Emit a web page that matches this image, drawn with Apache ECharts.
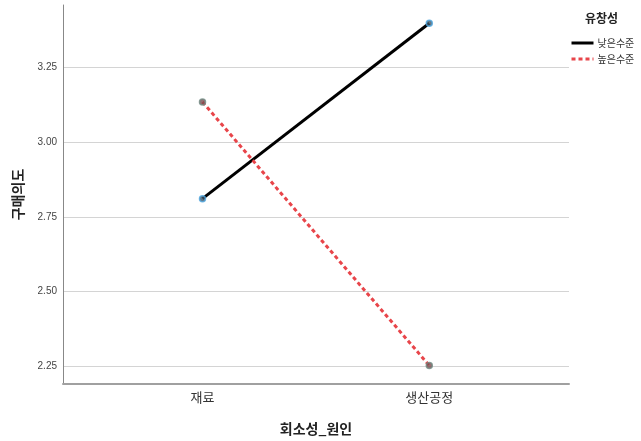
<!DOCTYPE html>
<html>
<head>
<meta charset="utf-8">
<script src="https://cdn.jsdelivr.net/npm/echarts@6/dist/echarts.min.js"></script>
<style>
html,body{margin:0;padding:0;background:#fff;}
#c{width:641px;height:441px;}
</style>
</head>
<body>
<div id="c"></div>
<script>
var categories = ['재료', '생산공정'];
var lowLevel = [2.811, 3.399];
var highLevel = [3.135, 2.252];
var yTicks = [2.25, 2.50, 2.75, 3.00, 3.25];
var seriesNames = ['낮은수준', '높은수준'];
var legendTitle = '유창성';
var xTitle = '회소성_원인';
var yTitle = '구매의도';

var FONT = '"Noto Sans CJK KR", "Noto Sans", sans-serif';
function pts(arr){ return arr.map(function(v,i){ return [i, v]; }); }

var chart = echarts.init(document.getElementById('c'), null, {renderer:'canvas'});
chart.setOption({
  animation:false,
  backgroundColor:'#fff',
  textStyle:{fontFamily:FONT},
  title:{
    text:legendTitle, left:580, top:7,
    textStyle:{fontSize:12, fontWeight:'bold', color:'#222', fontFamily:FONT}
  },
  legend:{
    data:seriesNames, orient:'vertical', left:565, top:33,
    itemWidth:22, itemHeight:10, itemGap:6,
    itemStyle:{color:'transparent', borderColor:'transparent', borderWidth:0, opacity:0},
    lineStyle:{width:3},
    textStyle:{fontSize:10, color:'#333', fontFamily:FONT, padding:[0,0,0,-1]}
  },
  grid:{left:63, right:72, top:5, bottom:57},
  xAxis:{
    type:'value', min:-0.615, max:1.616,
    name:xTitle, nameLocation:'middle', nameGap:38,
    nameTextStyle:{fontSize:14, fontWeight:'bold', color:'#222', fontFamily:FONT},
    axisLine:{show:true, onZero:false, lineStyle:{color:'#a0a0a0', width:2}},
    axisTick:{show:false, customValues:[0,1]},
    splitLine:{show:false},
    axisLabel:{
      customValues:[0,1], margin:7, fontSize:13, color:'#333', fontFamily:FONT,
      formatter:function(v){ return categories[Math.round(v)] || ''; }
    }
  },
  yAxis:{
    type:'value', min:2.19, max:3.46,
    name:yTitle, nameLocation:'middle', nameGap:38, nameRotate:90,
    nameTextStyle:{fontSize:14, fontWeight:'bold', color:'#222', fontFamily:FONT},
    axisLine:{show:true, onZero:false, lineStyle:{color:'#888', width:1}},
    axisTick:{show:false, customValues:yTicks},
    splitLine:{show:true, lineStyle:{color:'#d4d4d4', width:1}},
    axisLabel:{
      customValues:yTicks, margin:6, fontSize:10, color:'#444', fontFamily:'"Liberation Sans", Arial, sans-serif',
      formatter:function(v){ return v.toFixed(2); }
    }
  },
  series:[
    {name:seriesNames[0], type:'line', data:pts(lowLevel), showSymbol:false, symbol:'none',
     lineStyle:{color:'#000', width:3, type:'solid'}, itemStyle:{color:'#000'}, z:2},
    {name:seriesNames[1], type:'line', data:pts(highLevel), showSymbol:false, symbol:'none',
     lineStyle:{color:'#e8454a', width:3, type:[4,3]}, itemStyle:{color:'#e8454a'}, z:2},
    {name:'m1', type:'scatter', data:pts(lowLevel), symbol:'circle', symbolSize:6,
     itemStyle:{color:'#3d5566', borderColor:'#4ea6e0', borderWidth:1.5}, z:3},
    {name:'m2', type:'scatter', data:pts(highLevel), symbol:'circle', symbolSize:6,
     itemStyle:{color:'#7a4a4e', borderColor:'#6f8a82', borderWidth:1.5}, z:3}
  ]
});
</script>
</body>
</html>
